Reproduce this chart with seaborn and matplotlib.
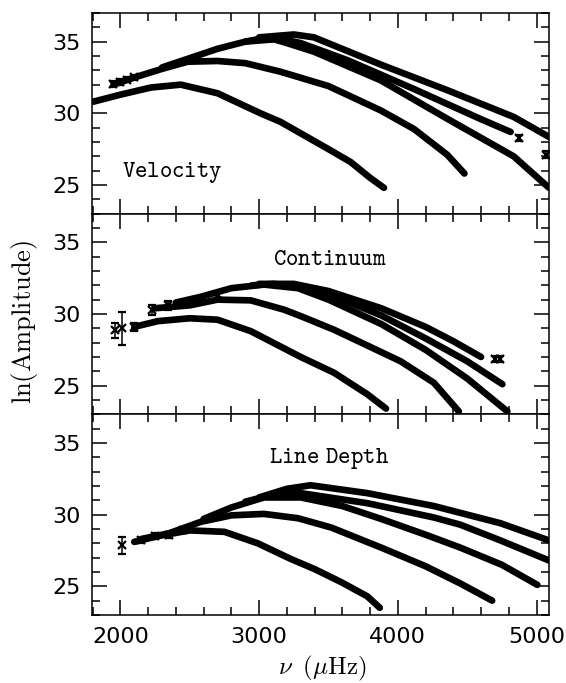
import numpy as np
import pandas as pd
import matplotlib
matplotlib.use("Agg")
import matplotlib.pyplot as plt
import seaborn as sns
from matplotlib.ticker import MultipleLocator

# ---------------- data ----------------
# Velocity panel
vel_a_f = [1800, 2000, 2220, 2435, 2700, 3010, 3155, 3300, 3500, 3660, 3800, 3900]
vel_a_y = [30.8, 31.3, 31.8, 32.0, 31.4, 30.0, 29.4, 28.6, 27.5, 26.6, 25.5, 24.8]
vel_b_f = [1950, 2100, 2300, 2485, 2700, 2900, 3155, 3500, 3877, 4117, 4357, 4480]
vel_b_y = [32.0, 32.5, 33.1, 33.6, 33.65, 33.5, 32.9, 31.9, 30.2, 28.9, 27.1, 25.8]
vel_c_f = [2300, 2485, 2700, 2900, 3060, 3200, 3395, 3877, 4360, 4835, 5090]
vel_c_y = [33.2, 33.8, 34.5, 35.0, 35.3, 34.9, 34.3, 32.3, 29.6, 27.0, 24.8]
vel_d_f = [2900, 3155, 3300, 3638, 4115, 4597, 4813]
vel_d_y = [35.0, 35.2, 34.9, 33.7, 31.7, 29.6, 28.7]
vel_e_f = [3000, 3250, 3395, 3877, 4360, 4835, 5090]
vel_e_y = [35.3, 35.5, 35.3, 33.4, 31.6, 29.75, 28.35]
vel_pts_f = [1950, 2000, 2050, 2100, 4870, 5065]
vel_pts_y = [32.05, 32.2, 32.35, 32.5, 28.3, 27.1]
vel_pts_e = [0.2, 0.2, 0.2, 0.2, 0.2, 0.25]

# Continuum panel
cont_a_f = [2100, 2270, 2500, 2700, 2940, 3180, 3300, 3540, 3780, 3915]
cont_a_y = [29.1, 29.5, 29.7, 29.6, 28.8, 27.6, 27.0, 25.9, 24.4, 23.4]
cont_b_f = [2250, 2500, 2700, 2940, 3180, 3300, 3540, 3780, 4020, 4260, 4440]
cont_b_y = [30.4, 30.6, 31.0, 30.95, 30.3, 29.85, 28.9, 27.8, 26.7, 25.2, 23.2]
cont_c_f = [2400, 2580, 2800, 3035, 3280, 3500, 3880, 4200, 4500, 4790]
cont_c_y = [30.8, 31.2, 31.8, 32.05, 31.8, 31.0, 29.3, 27.5, 25.5, 23.2]
cont_d_f = [2950, 3100, 3300, 3500, 3880, 4200, 4500, 4754]
cont_d_y = [32.0, 32.1, 31.9, 31.4, 29.9, 28.3, 26.7, 25.1]
cont_e_f = [3000, 3250, 3500, 3880, 4200, 4400, 4600]
cont_e_y = [32.1, 32.1, 31.6, 30.4, 29.1, 28.1, 27.0]
cont_pts_f = [1960, 2015, 2100, 2230, 2340, 2700, 4700, 4740]
cont_pts_y = [28.85, 29.0, 29.1, 30.3, 30.6, 31.3, 26.85, 26.85]
cont_pts_e = [0.5, 1.15, 0.3, 0.35, 0.3, 0.2, 0.2, 0.2]

# Line-depth panel
ld_a_f = [2100, 2270, 2500, 2750, 2990, 3230, 3400, 3590, 3780, 3870]
ld_a_y = [28.1, 28.5, 28.9, 28.8, 28.0, 26.9, 26.2, 25.3, 24.3, 23.5]
ld_b_f = [2150, 2350, 2580, 2800, 3035, 3280, 3520, 3880, 4200, 4450, 4680]
ld_b_y = [28.3, 28.7, 29.5, 29.95, 30.05, 29.75, 29.1, 27.7, 26.4, 25.2, 24.0]
ld_c_f = [2600, 2800, 3035, 3300, 3600, 3880, 4200, 4450, 4750, 5006]
ld_c_y = [29.7, 30.5, 31.2, 31.2, 30.6, 29.7, 28.6, 27.7, 26.5, 25.1]
ld_d_f = [2900, 3100, 3300, 3780, 4260, 4450, 4740, 5090]
ld_d_y = [30.9, 31.4, 31.5, 30.8, 29.8, 29.3, 28.2, 26.8]
ld_e_f = [3000, 3200, 3370, 3780, 4260, 4740, 5090]
ld_e_y = [31.2, 31.8, 32.05, 31.5, 30.6, 29.4, 28.2]
ld_pts_f = [2015, 2150, 2250, 2350, 2450]
ld_pts_y = [27.85, 28.2, 28.5, 28.6, 28.9]
ld_pts_e = [0.6, 0.2, 0.2, 0.2, 0.2]

panel_names = ["Velocity", "Continuum", "Line Depth"]
panel_curves = [
    [(vel_a_f, vel_a_y), (vel_b_f, vel_b_y), (vel_c_f, vel_c_y), (vel_d_f, vel_d_y), (vel_e_f, vel_e_y)],
    [(cont_a_f, cont_a_y), (cont_b_f, cont_b_y), (cont_c_f, cont_c_y), (cont_d_f, cont_d_y), (cont_e_f, cont_e_y)],
    [(ld_a_f, ld_a_y), (ld_b_f, ld_b_y), (ld_c_f, ld_c_y), (ld_d_f, ld_d_y), (ld_e_f, ld_e_y)],
]
panel_pts = [(vel_pts_f, vel_pts_y, vel_pts_e), (cont_pts_f, cont_pts_y, cont_pts_e), (ld_pts_f, ld_pts_y, ld_pts_e)]

x_ticks = [2000, 3000, 4000, 5000]
y_ticks = [25, 30, 35]

# ---------------- style ----------------
sns.set_theme(style="ticks")
plt.rcParams["font.family"] = ["DejaVu Sans"]
plt.rcParams["mathtext.fontset"] = "cm"
for key in ["text.color", "axes.labelcolor", "xtick.color", "ytick.color", "axes.edgecolor"]:
    plt.rcParams[key] = "black"

fig = plt.figure(figsize=(5.66, 6.83), dpi=100)
axes = fig.subplots(3, 1, sharex=True)
fig.subplots_adjust(left=0.1625, right=0.970, bottom=0.0996, top=0.981, hspace=0)

label_pos = [(2010, 25.55, "left"), (3512, 33.44, "center"), (3505, 33.58, "center")]
label_tex = [r"$\mathtt{Velocity}$", r"$\mathtt{Continuum}$", r"$\mathtt{Line\ Depth}$"]

for i, ax in enumerate(axes):
    rows = []
    for k, (fs, ys) in enumerate(panel_curves[i]):
        for f, y in zip(fs, ys):
            rows.append({"curve": k, "freq": f, "amp": y})
    df = pd.DataFrame(rows)
    sns.lineplot(data=df, x="freq", y="amp", units="curve", estimator=None,
                 sort=False, color="black", lw=4.8, ax=ax, legend=False,
                 solid_joinstyle="round", solid_capstyle="round")
    pf, py, pe = panel_pts[i]
    ax.errorbar(pf, py, yerr=pe, fmt="x", color="black", ms=6, mew=1.6,
                elinewidth=1.1, capsize=3, capthick=1.1)

    ax.set_xlim(1795, 5090)
    ax.set_ylim(23, 37)
    ax.xaxis.set_major_locator(MultipleLocator(1000))
    ax.xaxis.set_minor_locator(MultipleLocator(200))
    ax.set_yticks(y_ticks)
    ax.yaxis.set_minor_locator(MultipleLocator(1))
    ax.tick_params(which="both", direction="in", top=True, right=True,
                   color="black", width=1.1, labelcolor="black")
    ax.tick_params(which="major", length=11)
    ax.tick_params(which="minor", length=5.5)
    ax.tick_params(axis="y", labelsize=16, pad=8)
    ax.tick_params(axis="x", labelsize=16, pad=9)
    for s in ax.spines.values():
        s.set_linewidth(1.1)
        s.set_color("black")
    ax.set_xlabel("")
    ax.set_ylabel("")
    lx, ly, ha = label_pos[i]
    ax.text(lx, ly, label_tex[i], fontsize=17, ha=ha, va="baseline", color="black")

axes[-1].set_xticks(x_ticks)
axes[-1].set_xticklabels([str(v) for v in x_ticks])

fig.text(0.044, 0.529, r"$\mathrm{ln(Amplitude)}$", rotation=90, fontsize=19,
         ha="center", va="center")
fig.text(0.569, 0.022, r"$\nu\;\;(\mu\mathrm{Hz})$", fontsize=18, ha="center", va="center")

fig.savefig("out.png", dpi=100)
